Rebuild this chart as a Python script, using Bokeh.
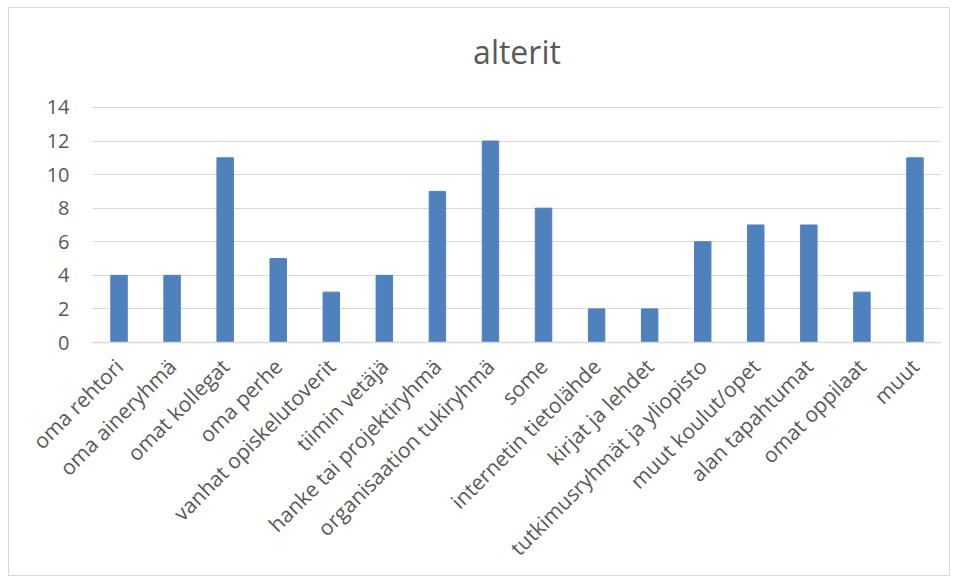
import math
from bokeh.plotting import figure
from bokeh.models import ColumnDataSource, Label
from bokeh.embed import file_html
from bokeh.resources import INLINE

categories = ["oma rehtori", "oma aineryhmä", "omat kollegat", "oma perhe",
              "vanhat opiskelutoverit", "tiimin vetäjä", "hanke tai projektiryhmä",
              "organisaation tukiryhmä", "some", "internetin tietolähde",
              "kirjat ja lehdet", "tutkimusryhmät ja yliopisto", "muut koulut/opet",
              "alan tapahtumat", "omat oppilaat", "muut"]
values = [4, 4, 11, 5, 3, 4, 9, 12, 8, 2, 2, 6, 7, 7, 3, 11]
y_ticks = [0, 2, 4, 6, 8, 10, 12, 14]
title_text = "alterit"

src = ColumnDataSource(data=dict(cat=categories, val=values))

FONT = "Open Sans"
TXT = "#595959"

p = figure(x_range=categories, y_range=(0, 19), width=942, height=569,
           output_backend="svg", toolbar_location=None,
           min_border_left=83, min_border_right=10, min_border_top=15,
           min_border_bottom=235)
p.margin = (7, 9, 3, 8)
p.styles = {"border": "1px solid #D9D9D9"}

p.vbar(x="cat", top="val", width=0.31, source=src, fill_color="#4F81BD",
       line_color="#4F81BD")

p.add_layout(Label(x=len(categories) / 2, y=17.33, text=title_text,
                   text_align="center", text_baseline="alphabetic",
                   text_font=FONT, text_font_size="32px", text_color=TXT))

p.outline_line_color = None
p.xgrid.grid_line_color = None
p.ygrid.grid_line_color = "#D9D9D9"
p.ygrid.grid_line_width = 1
p.yaxis.ticker = y_ticks
p.yaxis.axis_line_color = None
p.yaxis.major_tick_line_color = None
p.yaxis.minor_tick_line_color = None
p.yaxis.major_label_text_font = FONT
p.yaxis.major_label_text_font_size = "20px"
p.yaxis.major_label_text_color = TXT
p.yaxis.major_label_standoff = 17

p.xaxis.axis_line_color = "#D9D9D9"
p.xaxis.axis_line_width = 1.5
p.xaxis.major_tick_line_color = None
p.xaxis.minor_tick_line_color = None
p.xaxis.major_label_orientation = math.pi / 4
p.xaxis.major_label_text_font = FONT
p.xaxis.major_label_text_font_size = "21px"
p.xaxis.major_label_text_color = TXT
p.xaxis.major_label_standoff = 14

open("out.html", "w").write(file_html(p, INLINE))
